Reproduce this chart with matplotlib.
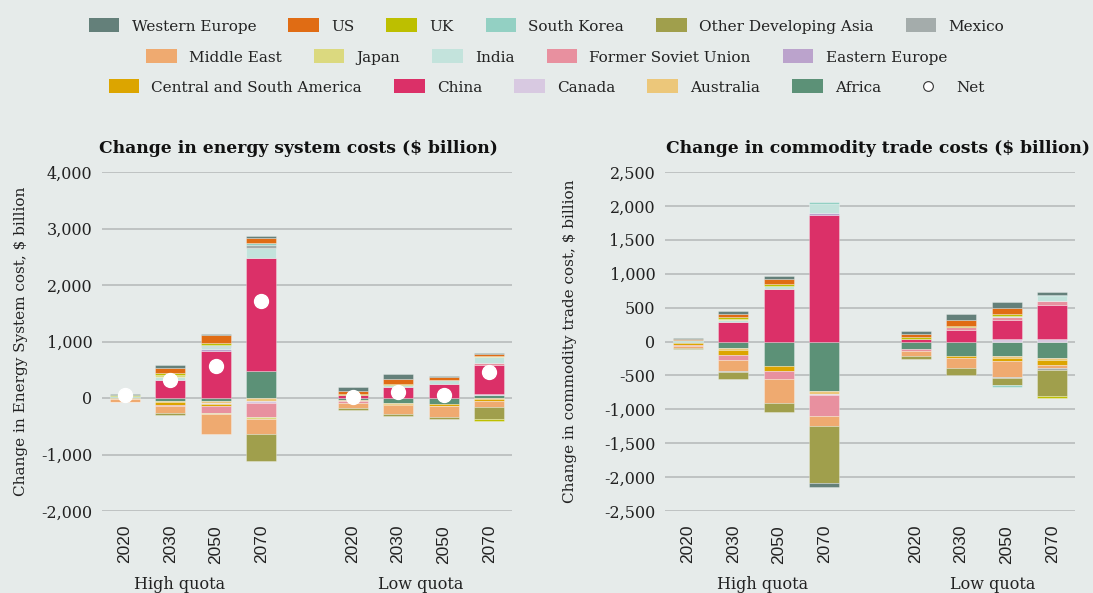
import matplotlib
matplotlib.use('Agg')
import matplotlib.pyplot as plt
import numpy as np
from matplotlib.patches import Patch
from matplotlib.lines import Line2D
from matplotlib.ticker import FuncFormatter
from matplotlib.transforms import blended_transform_factory

# bars: High quota 2020..2070, then Low quota 2020..2070
years = ['2020', '2030', '2050', '2070', '2020', '2030', '2050', '2070']
x_pos = [0, 1, 2, 3, 5, 6, 7, 8]

regions = ['Western Europe', 'US', 'UK', 'South Korea', 'Other Developing Asia', 'Mexico',
           'Middle East', 'Japan', 'India', 'Former Soviet Union', 'Eastern Europe',
           'Central and South America', 'China', 'Canada', 'Australia', 'Africa']
colors = ['#64807a', '#e06c14', '#bdbf00', '#93d0c3', '#a09f4c', '#a4acab',
          '#efaa70', '#dbd97f', '#c3e3dc', '#e8909f', '#bba3cc',
          '#dca500', '#db3068', '#d8c9e1', '#ecc77a', '#5c9177']

# change in energy system costs ($ billion)
energy_western_europe = [20, 55, 30, 40, 60, 88, 30, 25]
energy_us = [10, 90, 140, 80, 55, 83, 40, 30]
energy_uk = [10, 30, 25, 10, 15, 30, 10, -35]
energy_south_korea = [15, 0, 25, 25, 0, 0, 0, 0]
energy_other_dev_asia = [-10, -40, 0, -470, -45, -35, -30, -200]
energy_mexico = [0, 0, 15, 50, 0, 0, 0, 0]
energy_middle_east = [-40, -110, -350, -270, -90, -160, -195, -120]
energy_japan = [0, 40, -15, -30, 10, 0, 0, 15]
energy_india = [10, 45, 40, 180, 0, 35, 60, 110]
energy_fsu = [-15, -30, -120, -260, -40, 0, -10, 40]
energy_eastern_europe = [0, 0, 25, 0, 0, 0, 0, 0]
energy_csa = [0, -45, -45, 0, 0, -30, -40, -30]
energy_china = [0, 324, 840, 2000, 50, 188, 253, 510]
energy_canada = [0, 0, -20, -30, 0, 0, 0, 20]
energy_australia = [-10, -25, -30, -50, -15, -10, 0, -15]
energy_africa = [10, -50, -50, 480, -30, -90, -100, 50]
energy_net = [60, 312, 570, 1710, 25, 105, 45, 455]

# change in commodity trade costs ($ billion)
trade_western_europe = [15, 49, 50, -60, 49, 83, 83, 34]
trade_us = [10, 49, 73, 0, 49, 88, 88, 0]
trade_uk = [0, 20, 35, 0, 20, 25, 25, -25]
trade_south_korea = [10, 0, 0, 34, 0, 0, -25, 25]
trade_other_dev_asia = [-20, -90, -147, -833, -35, -108, -100, -395]
trade_mexico = [0, -25, 0, 0, 0, 0, -25, -25]
trade_middle_east = [-30, -160, -350, -147, -78, -147, -230, -35]
trade_japan = [0, 19, 0, 0, 14, 0, 0, 0]
trade_india = [10, 34, 45, 138, 0, 0, 25, 64]
trade_fsu = [-10, -73, -117, -310, -35, 34, 34, 59]
trade_eastern_europe = [0, 0, 0, 25, 0, 0, 0, 0]
trade_csa = [-25, -73, -73, 0, 0, -25, -40, -73]
trade_china = [0, 284, 769, 1867, 30, 176, 290, 505]
trade_canada = [0, 0, 0, -20, 0, 0, 33, 40]
trade_australia = [-10, -25, 0, -35, 0, 0, -30, -35]
trade_africa = [-15, -100, -360, -735, -107, -220, -220, -245]

energy_values = [energy_western_europe, energy_us, energy_uk, energy_south_korea,
                 energy_other_dev_asia, energy_mexico, energy_middle_east, energy_japan,
                 energy_india, energy_fsu, energy_eastern_europe, energy_csa,
                 energy_china, energy_canada, energy_australia, energy_africa]
trade_values = [trade_western_europe, trade_us, trade_uk, trade_south_korea,
                trade_other_dev_asia, trade_mexico, trade_middle_east, trade_japan,
                trade_india, trade_fsu, trade_eastern_europe, trade_csa,
                trade_china, trade_canada, trade_australia, trade_africa]

bg = '#e6ebea'
grid_col = '#b8bcbc'
serif = 'DejaVu Serif'

fig = plt.figure(figsize=(10.93, 5.93), dpi=100, facecolor=bg)
ax1 = fig.add_axes([102 / 1093, 1 - 511 / 593, 410 / 1093, 339 / 593])
ax2 = fig.add_axes([665 / 1093, 1 - 511 / 593, 410 / 1093, 339 / 593])


def draw_stack(ax, values):
    xs = np.array(x_pos, dtype=float)
    pos_bottom = np.zeros(len(xs))
    neg_bottom = np.zeros(len(xs))
    # stacked outwards from zero in reverse legend order (Africa closest to zero)
    for color, vals in reversed(list(zip(colors, values))):
        vals = np.array(vals, dtype=float)
        pos = np.where(vals > 0, vals, 0)
        neg = np.where(vals < 0, vals, 0)
        m = pos > 0
        if m.any():
            ax.bar(xs[m], pos[m], bottom=pos_bottom[m], width=0.66, color=color,
                   edgecolor=(1, 1, 1, 0.35), linewidth=0.6, zorder=2)
        m = neg < 0
        if m.any():
            ax.bar(xs[m], neg[m], bottom=neg_bottom[m], width=0.66, color=color,
                   edgecolor=(1, 1, 1, 0.35), linewidth=0.6, zorder=2)
        pos_bottom += pos
        neg_bottom += neg


def style_axis(ax, ylim, step, title, title_x, ylabel, label_x, group_x):
    ax.set_facecolor(bg)
    for s in ax.spines.values():
        s.set_visible(False)
    ax.set_xlim(-0.5, 8.5)
    ax.set_ylim(*ylim)
    ax.set_yticks(np.arange(ylim[0], ylim[1] + 1, step))
    ax.yaxis.set_major_formatter(FuncFormatter(lambda v, p: f'{v:,.0f}'))
    ax.grid(axis='y', color=grid_col, linewidth=1.2)
    ax.set_axisbelow(True)
    ax.tick_params(axis='both', length=0)
    ax.tick_params(axis='y', labelsize=11.5, pad=7, labelcolor='#222222',
                   labelfontfamily=serif)
    ax.set_xticks(x_pos)
    ax.set_xticklabels(years, rotation=90, fontsize=12.5, family='Liberation Sans', color='#222222')
    ax.tick_params(axis='x', pad=10)
    ax.set_title(title, x=title_x, fontsize=12.3, fontweight='bold', family=serif, pad=14,
                 color='#111111')
    ax.set_ylabel(ylabel, fontsize=11, family=serif, color='#222222')
    ax.yaxis.set_label_coords(label_x, 0.5)
    tr = blended_transform_factory(ax.transData, fig.transFigure)
    ax.text(group_x[0], 1 - 589 / 593, 'High quota', transform=tr, ha='center', va='baseline',
            fontsize=11.5, family=serif, color='#222222')
    ax.text(group_x[1], 1 - 589 / 593, 'Low quota', transform=tr, ha='center', va='baseline',
            fontsize=11.5, family=serif, color='#222222')


draw_stack(ax1, energy_values)
ax1.plot(x_pos, energy_net, 'o', color='white', markersize=10, zorder=3)
style_axis(ax1, (-2000, 4000), 1000, 'Change in energy system costs ($ billion)', 0.48,
           'Change in Energy System cost, $ billion', -0.18, (1.2, 6.5))

draw_stack(ax2, trade_values)
style_axis(ax2, (-2500, 2500), 500, 'Change in commodity trade costs ($ billion)', 0.52,
           'Change in commodity trade cost, $ billion', -0.215, (1.65, 6.7))

# legend in three centred rows
handles = [Patch(facecolor=c, edgecolor='none') for c in colors]
net_handle = Line2D([], [], marker='o', linestyle='none', markerfacecolor='white',
                    markeredgecolor='#333333', markeredgewidth=0.8, markersize=7)
rows = [(handles[0:6], regions[0:6], 1 - 26 / 593),
        (handles[6:11], regions[6:11], 1 - 57 / 593),
        (handles[11:16] + [net_handle], regions[11:16] + ['Net'], 1 - 87 / 593)]
for h, lab, y in rows:
    leg = fig.legend(h, lab, loc='center', bbox_to_anchor=(0.5, y), ncol=len(h),
                     frameon=False, handlelength=2.0, handleheight=1.0, handletextpad=0.8,
                     columnspacing=2.1, prop={'family': serif, 'size': 11})
    for t in leg.get_texts():
        t.set_color('#222222')

fig.savefig('out.png', dpi=100, facecolor=bg)
